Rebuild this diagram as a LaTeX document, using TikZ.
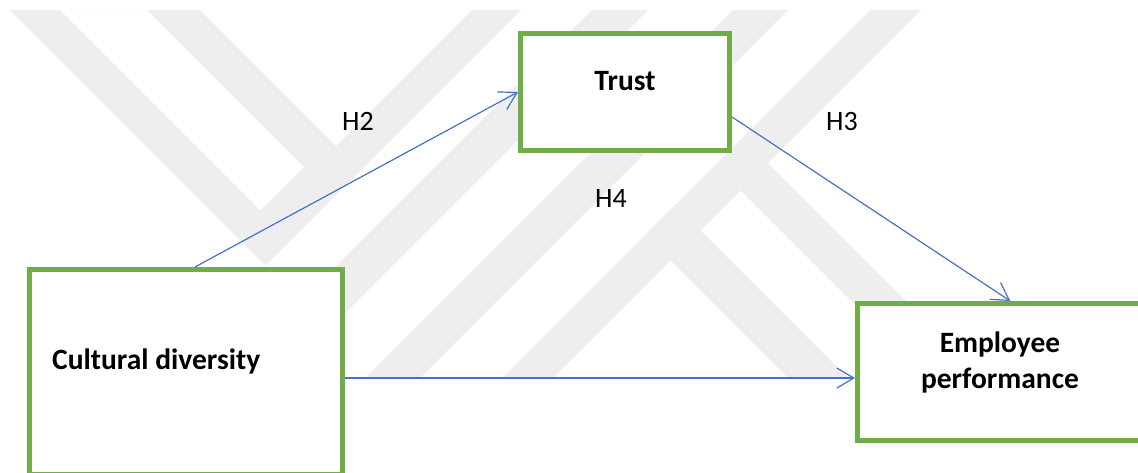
\documentclass[tikz,border=0pt]{standalone}
\usepackage{fontspec}
\setmainfont{Carlito}
\usetikzlibrary{arrows.meta}
\definecolor{boxgreen}{HTML}{70AD47}
\definecolor{linkblue}{HTML}{4472C4}
\definecolor{markgray}{HTML}{EEEEEE}

\begin{document}
\begin{tikzpicture} [x=1pt, y=-1pt, line join=miter]
  \tikzstyle{box}=[draw=boxgreen, line width=5pt, fill=white, inner sep=0pt]
  \tikzstyle{title}=[font=\bfseries\fontsize{29.5}{36}\selectfont, inner sep=0pt, anchor=base]
  \tikzstyle{hyp}=[font=\fontsize{28}{34}\selectfont, inner sep=0pt, anchor=base]
  \tikzstyle{link}=[draw=linkblue, line width=1.2pt, -{Straight Barb[length=17pt, width=20pt]}]

  \useasboundingbox (0,0) rectangle (1138,472);
  \clip (0,0) rectangle (1138,472);

  % watermark in the back
  \fill[markgray, even odd rule] (10,10) -- (200,10) -- (360.5,170.5) -- (265.5,265.5) -- cycle
    (60,10) -- (147,10) -- (304,167) -- (260.5,210.5) -- cycle;
  \fill[markgray] (472,10) -- (521,10) -- (360.5,170.5) -- (336,146) -- cycle;
  \foreach \a / \b in {602/658, 743/798, 880/931}
    \fill[markgray] (\a-10,10) -- (\b-10,10) -- (\b-378,378) -- (\a-378,378) -- cycle;
  \foreach \a / \b in {410/470, 550/605}
    \fill[markgray] ({(880+\a)/2},{(880-\a)/2}) -- ({(880+\b)/2},{(880-\b)/2})
      -- (\b+378,378) -- (\a+378,378) -- cycle;

  \node[box, minimum width=209pt, minimum height=117pt] (trust) at (625,92) {};
  \node[box, minimum width=313pt, minimum height=205pt] (cult) at (186,372) {};
  \node[box, minimum width=287.5pt, minimum height=137pt] (emp) at (1001.25,372) {};

  \node[title] (trusttxt) at (625,90) {Trust};
  \node[title, anchor=base west] (culttxt) at (52,369) {Cultural diversity};
  \node[title] (emptxt1) at (1000,352) {Employee};
  \node[title] (emptxt2) at (1000,388) {performance};

  \foreach \name / \x / \y in {H2/358/130, H3/842/130, H4/611/207}
    \node[hyp] (\name) at (\x,\y) {\name};

  \draw[link] ([xshift=9pt]cult.north) -- (trust.west);
  \draw[link] ([yshift=-25pt]trust.east) -- ([xshift=9pt]emp.north);
  \draw[link] ([yshift=-6pt]cult.east) -- ([yshift=-6pt]emp.west);

\end{tikzpicture}
\end{document}
